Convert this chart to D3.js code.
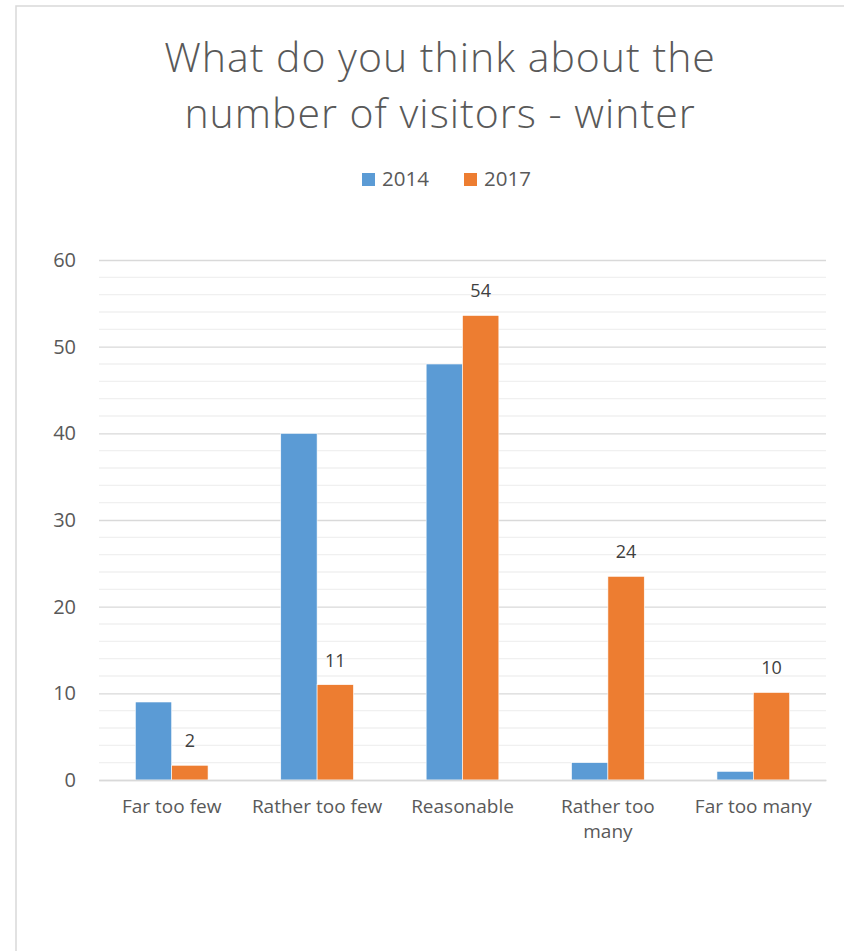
<!DOCTYPE html>
<html>
<head>
<meta charset="utf-8">
<script src="https://cdn.jsdelivr.net/npm/d3@7"></script>
<style>
  html, body { margin: 0; padding: 0; background: #fff; }
  svg { display: block; }
  text { font-family: "Open Sans", "Noto Sans", sans-serif; }
</style>
</head>
<body>
<svg id="chart" width="844" height="951"></svg>
<script>
// Survey answers, winter season
const categories = ["Far too few", "Rather too few", "Reasonable", "Rather too many", "Far too many"];
const seriesNames = ["2014", "2017"];
const values2014 = [9, 40, 48, 2, 1];
const values2017 = [1.7, 11, 53.6, 23.5, 10.1];
const yTicks = [0, 10, 20, 30, 40, 50, 60];
const titleLines = ["What do you think about the", "number of visitors - winter"];

const colors = { "2014": "#5B9BD5", "2017": "#ED7D31" };
const textColor = "#595959";
const fontStack = '"Open Sans", "Noto Sans", sans-serif';

const svg = d3.select("#chart");
const W = 844, H = 951;
const margin = { left: 99, right: 18, top: 260, bottom: 171 };
const plotW = W - margin.left - margin.right;
const plotH = H - margin.top - margin.bottom;

// chart frame
svg.append("rect")
  .attr("x", 16).attr("y", 6)
  .attr("width", W + 10).attr("height", H + 10)
  .attr("fill", "#fff")
  .attr("stroke", "#d9d9d9").attr("stroke-width", 1.5);

// title
svg.append("text")
  .attr("text-anchor", "middle")
  .attr("fill", textColor)
  .attr("font-size", 41)
  .attr("font-weight", 300)
  .attr("letter-spacing", 1)
  .selectAll("tspan")
  .data(titleLines)
  .join("tspan")
  .attr("x", 440)
  .attr("y", (d, i) => 72 + i * 56)
  .text(d => d);

// legend
const legend = svg.append("g").attr("transform", "translate(362,180)");
const legendItems = legend.selectAll("g").data(seriesNames).join("g")
  .attr("transform", (d, i) => `translate(${i * 102},0)`);
legendItems.append("rect")
  .attr("x", 0).attr("y", -7).attr("width", 13).attr("height", 13)
  .attr("fill", d => colors[d]);
legendItems.append("text")
  .attr("x", 20).attr("y", 6)
  .attr("font-size", 20.5).attr("fill", textColor)
  .text(d => d);

const g = svg.append("g").attr("transform", `translate(${margin.left},${margin.top})`);

const x = d3.scaleBand().domain(categories).range([0, plotW]).paddingInner(0.5).paddingOuter(0.25);
const xSub = d3.scaleBand().domain(seriesNames).range([0, x.bandwidth()]);
const y = d3.scaleLinear().domain([0, 60]).range([plotH, 0]);

// minor gridlines every 2 units
g.append("g").selectAll("line")
  .data(d3.range(0, 61, 2).filter(v => v % 10 !== 0))
  .join("line")
  .attr("x1", 0).attr("x2", plotW)
  .attr("y1", d => y(d)).attr("y2", d => y(d))
  .attr("stroke", "#f0f0f0").attr("stroke-width", 1.3);

// major gridlines and y labels
const yAxis = g.append("g")
  .call(d3.axisLeft(y).tickValues(yTicks).tickSize(-plotW).tickPadding(23))
  .call(a => a.select(".domain").remove());
yAxis.selectAll(".tick line").attr("stroke", "#d9d9d9").attr("stroke-width", 1.3);
yAxis.selectAll(".tick text").attr("fill", textColor).attr("font-size", 20)
  .style("font-family", fontStack);

// bars
const rows = categories.map((c, i) => ({ category: c, values: [
  { series: "2014", value: values2014[i] },
  { series: "2017", value: values2017[i] }
]}));

const groups = g.selectAll(".group").data(rows).join("g")
  .attr("class", "group")
  .attr("transform", d => `translate(${x(d.category)},0)`);

groups.selectAll("rect").data(d => d.values).join("rect")
  .attr("x", d => xSub(d.series))
  .attr("y", d => y(d.value))
  .attr("width", xSub.bandwidth())
  .attr("height", d => y(0) - y(d.value))
  .attr("fill", d => colors[d.series])
  .attr("stroke", "#fff").attr("stroke-width", 0.6);

// value labels for 2017
const fmt = d3.format(".0f");
groups.selectAll(".lbl").data(d => d.values.filter(v => v.series === "2017")).join("text")
  .attr("class", "lbl")
  .attr("x", d => xSub(d.series) + xSub.bandwidth() / 2)
  .attr("y", d => y(d.value) - 18)
  .attr("text-anchor", "middle")
  .attr("font-size", 18).attr("fill", "#404040")
  .text(d => fmt(d.value));

// category labels with wrapping
const xAxis = g.append("g").attr("transform", `translate(0,${plotH})`)
  .call(d3.axisBottom(x).tickSize(0).tickPadding(20));
xAxis.select(".domain").attr("stroke", "#d9d9d9").attr("stroke-width", 1.3);
xAxis.selectAll(".tick text").attr("fill", textColor).attr("font-size", 19)
  .style("font-family", fontStack)
  .each(function() { wrap(d3.select(this), 135); });

function wrap(text, width) {
  const words = text.text().split(/\s+/);
  const yPos = text.attr("y");
  const dy = parseFloat(text.attr("dy")) || 0;
  text.text(null);
  let line = [];
  let lineNo = 0;
  let tspan = text.append("tspan").attr("x", 0).attr("y", yPos).attr("dy", dy + "em");
  for (const w of words) {
    line.push(w);
    tspan.text(line.join(" "));
    if (tspan.node().getComputedTextLength() > width && line.length > 1) {
      line.pop();
      tspan.text(line.join(" "));
      line = [w];
      lineNo++;
      tspan = text.append("tspan").attr("x", 0).attr("y", yPos)
        .attr("dy", (lineNo * 1.3 + dy) + "em").text(w);
    }
  }
}
</script>
</body>
</html>
